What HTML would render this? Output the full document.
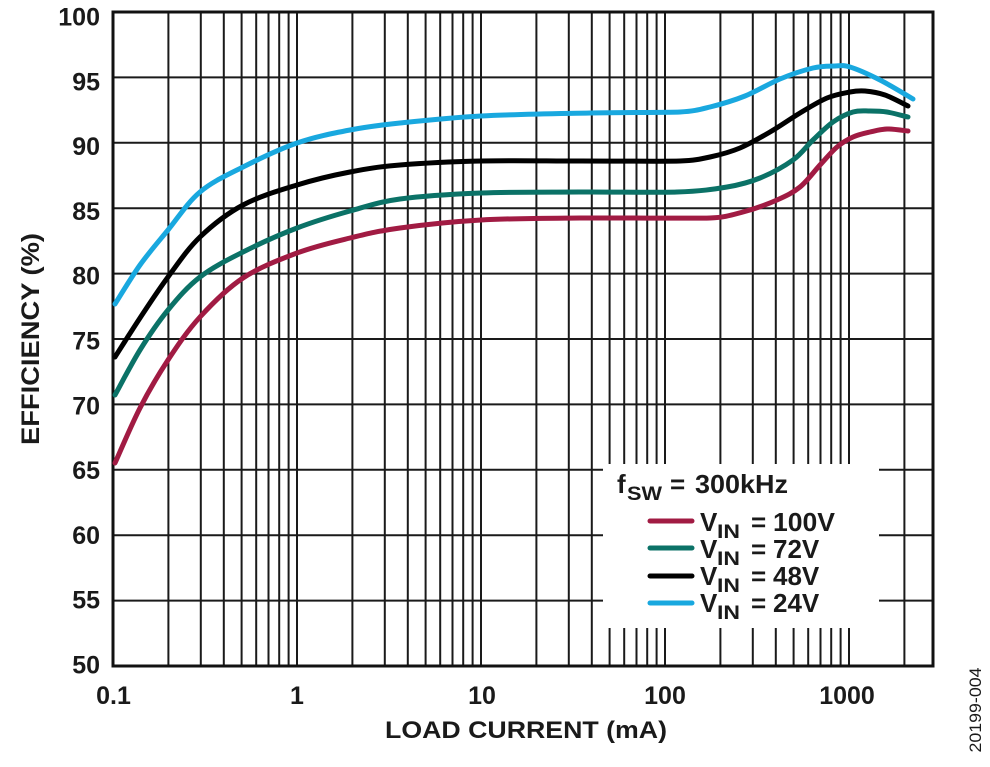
<!DOCTYPE html>
<html>
<head>
<meta charset="utf-8">
<style>
  html, body { margin: 0; padding: 0; background: #ffffff; }
  svg { display: block; }
  text { font-family: "Liberation Sans", Arial, sans-serif; fill: #1a1a1a; }
  .b { font-weight: bold; }
</style>
</head>
<body>
<svg width="990" height="767" viewBox="0 0 990 767" xmlns="http://www.w3.org/2000/svg">
  <rect x="0" y="0" width="990" height="767" fill="#ffffff"/>

  <!-- vertical grid -->
  <g stroke="#1a1a1a" stroke-width="2" fill="none">
    <line x1="168.4" y1="12" x2="168.4" y2="666"/>
    <line x1="200.8" y1="12" x2="200.8" y2="666"/>
    <line x1="223.8" y1="12" x2="223.8" y2="666"/>
    <line x1="241.6" y1="12" x2="241.6" y2="666"/>
    <line x1="256.2" y1="12" x2="256.2" y2="666"/>
    <line x1="268.5" y1="12" x2="268.5" y2="666"/>
    <line x1="279.2" y1="12" x2="279.2" y2="666"/>
    <line x1="288.6" y1="12" x2="288.6" y2="666"/>
    <line x1="297" y1="12" x2="297" y2="666"/>
    <line x1="352.4" y1="12" x2="352.4" y2="666"/>
    <line x1="384.8" y1="12" x2="384.8" y2="666"/>
    <line x1="407.8" y1="12" x2="407.8" y2="666"/>
    <line x1="425.6" y1="12" x2="425.6" y2="666"/>
    <line x1="440.2" y1="12" x2="440.2" y2="666"/>
    <line x1="452.5" y1="12" x2="452.5" y2="666"/>
    <line x1="463.2" y1="12" x2="463.2" y2="666"/>
    <line x1="472.6" y1="12" x2="472.6" y2="666"/>
    <line x1="481" y1="12" x2="481" y2="666"/>
    <line x1="536.4" y1="12" x2="536.4" y2="666"/>
    <line x1="568.8" y1="12" x2="568.8" y2="666"/>
    <line x1="591.8" y1="12" x2="591.8" y2="666"/>
    <line x1="609.6" y1="12" x2="609.6" y2="666"/>
    <line x1="624.2" y1="12" x2="624.2" y2="666"/>
    <line x1="636.5" y1="12" x2="636.5" y2="666"/>
    <line x1="647.2" y1="12" x2="647.2" y2="666"/>
    <line x1="656.6" y1="12" x2="656.6" y2="666"/>
    <line x1="665" y1="12" x2="665" y2="666"/>
    <line x1="720.4" y1="12" x2="720.4" y2="666"/>
    <line x1="752.8" y1="12" x2="752.8" y2="666"/>
    <line x1="775.8" y1="12" x2="775.8" y2="666"/>
    <line x1="793.6" y1="12" x2="793.6" y2="666"/>
    <line x1="808.2" y1="12" x2="808.2" y2="666"/>
    <line x1="820.5" y1="12" x2="820.5" y2="666"/>
    <line x1="831.2" y1="12" x2="831.2" y2="666"/>
    <line x1="840.6" y1="12" x2="840.6" y2="666"/>
    <line x1="849" y1="12" x2="849" y2="666"/>
    <line x1="904.4" y1="12" x2="904.4" y2="666"/>
  </g>
  <!-- horizontal grid -->
  <g stroke="#1a1a1a" stroke-width="2" fill="none">
    <line x1="113" y1="77.4" x2="933" y2="77.4"/>
    <line x1="113" y1="142.8" x2="933" y2="142.8"/>
    <line x1="113" y1="208.2" x2="933" y2="208.2"/>
    <line x1="113" y1="273.6" x2="933" y2="273.6"/>
    <line x1="113" y1="339" x2="933" y2="339"/>
    <line x1="113" y1="404.4" x2="933" y2="404.4"/>
    <line x1="113" y1="469.8" x2="933" y2="469.8"/>
    <line x1="113" y1="535.2" x2="933" y2="535.2"/>
    <line x1="113" y1="600.6" x2="933" y2="600.6"/>
  </g>
  <!-- frame -->
  <rect x="113" y="12" width="820" height="654" fill="none" stroke="#111" stroke-width="3"/>

  <!-- legend box -->
  <rect x="603" y="464" width="276" height="164" fill="#ffffff"/>

  <!-- curves -->
  <g fill="none" stroke-width="5" stroke-linecap="round" stroke-linejoin="round">
    <path stroke="#a11b43" d="M115,463 C119.2,453.8 131.2,425.2 140,408 S158,375.2 168,360 S187.5,330.7 200,317 S226.8,288.7 243,278 S279.2,259.7 297,253 S332.8,242.2 350,238 S378.2,231 400,228 S451,221.7 481,220 S541.8,218.3 580,218 S695,218.6 710,218 S731.8,215 743,212 S767.5,204.2 777,200 S792.8,192.8 800,187 S813.8,171.7 820,165 S831.5,151.7 837,147 S847.5,139.5 853,137 S864.3,133.3 870,132 S880.7,129.2 887,129 S904.5,130.7 908,131"/>
    <path stroke="#0b7267" d="M115,395 C119.2,387.5 131.2,364.2 140,350 S158,322.2 168,310 S187.5,286.7 200,277 S226.8,260.2 243,252 S279.2,234.8 297,228 S332.8,215.8 350,211 S378.2,202 400,199 S451,194.2 481,193 S547.3,192.2 580,192 S652.5,192.8 677,192 S713.2,189.3 727,187 S749,182.5 760,178 S784.2,166.3 793,160 S806.3,146.3 813,140 S826.3,126.7 833,122 S846.8,113.8 853,112 S864.3,111 870,111 S880.7,111 887,112 S904.5,116.2 908,117"/>
    <path stroke="#000000" d="M115,357 C119.2,350.5 131.2,331.3 140,318 S158,290.5 168,277 S187.5,249 200,237 S226.8,213.7 243,205 S279.2,190.5 297,185 S332.8,175.3 350,172 S378.2,166.8 400,165 S451,161.7 481,161 S546.8,161 580,161 S666,161.5 680,161 S700,159.2 710,157 S730,152.2 740,148 S760,137.8 770,132 S790.5,118.7 800,113 S818.7,101.5 827,98 S843.7,93.2 850,92 S859.2,90.5 865,91 S877.8,92.5 885,95 S904.2,104.2 908,106"/>
    <path stroke="#19a8df" d="M115,304 C119.2,297.5 131.2,277.3 140,265 S158,242.2 168,230 S187.5,202.5 200,192 S226.8,175.2 243,167 S279.2,149.2 297,143 S332.8,133.3 350,130 S378.2,125.3 400,123 S449.3,117.7 481,116 S556.8,113.7 590,113 S666,112.7 680,112 S699.2,109.7 710,107 S733.3,100.7 745,96 S768.7,83.7 780,79 S803.8,70.2 813,68 S828.8,66.2 835,66 S842.5,64.7 850,67 S869.5,74.7 880,80 S907.5,95.8 913,99"/>
  </g>

  <!-- legend content -->
  <text class="b" x="617" y="493" font-size="26">f</text>
  <text class="b" x="627" y="500" font-size="19" textLength="35" lengthAdjust="spacingAndGlyphs">SW</text>
  <text class="b" x="670" y="493" font-size="26">=</text>
  <text class="b" x="695" y="493" font-size="26" textLength="93" lengthAdjust="spacingAndGlyphs">300kHz</text>

  <g stroke-width="5" stroke-linecap="round">
    <line x1="650" y1="521" x2="692" y2="521" stroke="#a11b43"/>
    <line x1="650" y1="548" x2="692" y2="548" stroke="#0b7267"/>
    <line x1="650" y1="576" x2="692" y2="576" stroke="#000000"/>
    <line x1="650" y1="603" x2="692" y2="603" stroke="#19a8df"/>
  </g>

  <g>
    <text class="b" x="700" y="531" font-size="26">V</text>
    <text class="b" x="717" y="538" font-size="19" textLength="23" lengthAdjust="spacingAndGlyphs">IN</text>
    <text class="b" x="751" y="531" font-size="26">=</text>
    <text class="b" x="773" y="531" font-size="26" textLength="62" lengthAdjust="spacingAndGlyphs">100V</text>

    <text class="b" x="700" y="558" font-size="26">V</text>
    <text class="b" x="717" y="565" font-size="19" textLength="23" lengthAdjust="spacingAndGlyphs">IN</text>
    <text class="b" x="751" y="558" font-size="26">=</text>
    <text class="b" x="773" y="558" font-size="26">72V</text>

    <text class="b" x="700" y="585" font-size="26">V</text>
    <text class="b" x="717" y="592" font-size="19" textLength="23" lengthAdjust="spacingAndGlyphs">IN</text>
    <text class="b" x="751" y="585" font-size="26">=</text>
    <text class="b" x="773" y="585" font-size="26">48V</text>

    <text class="b" x="700" y="612" font-size="26">V</text>
    <text class="b" x="717" y="619" font-size="19" textLength="23" lengthAdjust="spacingAndGlyphs">IN</text>
    <text class="b" x="751" y="612" font-size="26">=</text>
    <text class="b" x="773" y="612" font-size="26">24V</text>
  </g>

  <!-- y tick labels -->
  <g font-size="25" text-anchor="end">
    <text class="b" x="100" y="25.5">100</text>
    <text class="b" x="100" y="90.3">95</text>
    <text class="b" x="100" y="155.1">90</text>
    <text class="b" x="100" y="219.9">85</text>
    <text class="b" x="100" y="284.7">80</text>
    <text class="b" x="100" y="349.5">75</text>
    <text class="b" x="100" y="414.3">70</text>
    <text class="b" x="100" y="479.1">65</text>
    <text class="b" x="100" y="543.9">60</text>
    <text class="b" x="100" y="608.7">55</text>
    <text class="b" x="100" y="673.5">50</text>
  </g>

  <!-- x tick labels -->
  <g font-size="25" text-anchor="middle">
    <text class="b" x="113.5" y="704">0.1</text>
    <text class="b" x="297" y="704">1</text>
    <text class="b" x="482" y="704">10</text>
    <text class="b" x="665" y="704">100</text>
    <text class="b" x="847" y="704">1000</text>
  </g>

  <!-- axis titles -->
  <text class="b" x="526" y="738" font-size="24" text-anchor="middle" textLength="282" lengthAdjust="spacingAndGlyphs">LOAD CURRENT (mA)</text>
  <text class="b" transform="translate(39,339) rotate(-90)" x="0" y="0" font-size="25" text-anchor="middle" textLength="212" lengthAdjust="spacingAndGlyphs">EFFICIENCY (%)</text>

  <!-- figure id -->
  <text transform="translate(981,710) rotate(-90)" x="0" y="0" font-size="17" text-anchor="middle" textLength="85" lengthAdjust="spacingAndGlyphs">20199-004</text>
</svg>
</body>
</html>
